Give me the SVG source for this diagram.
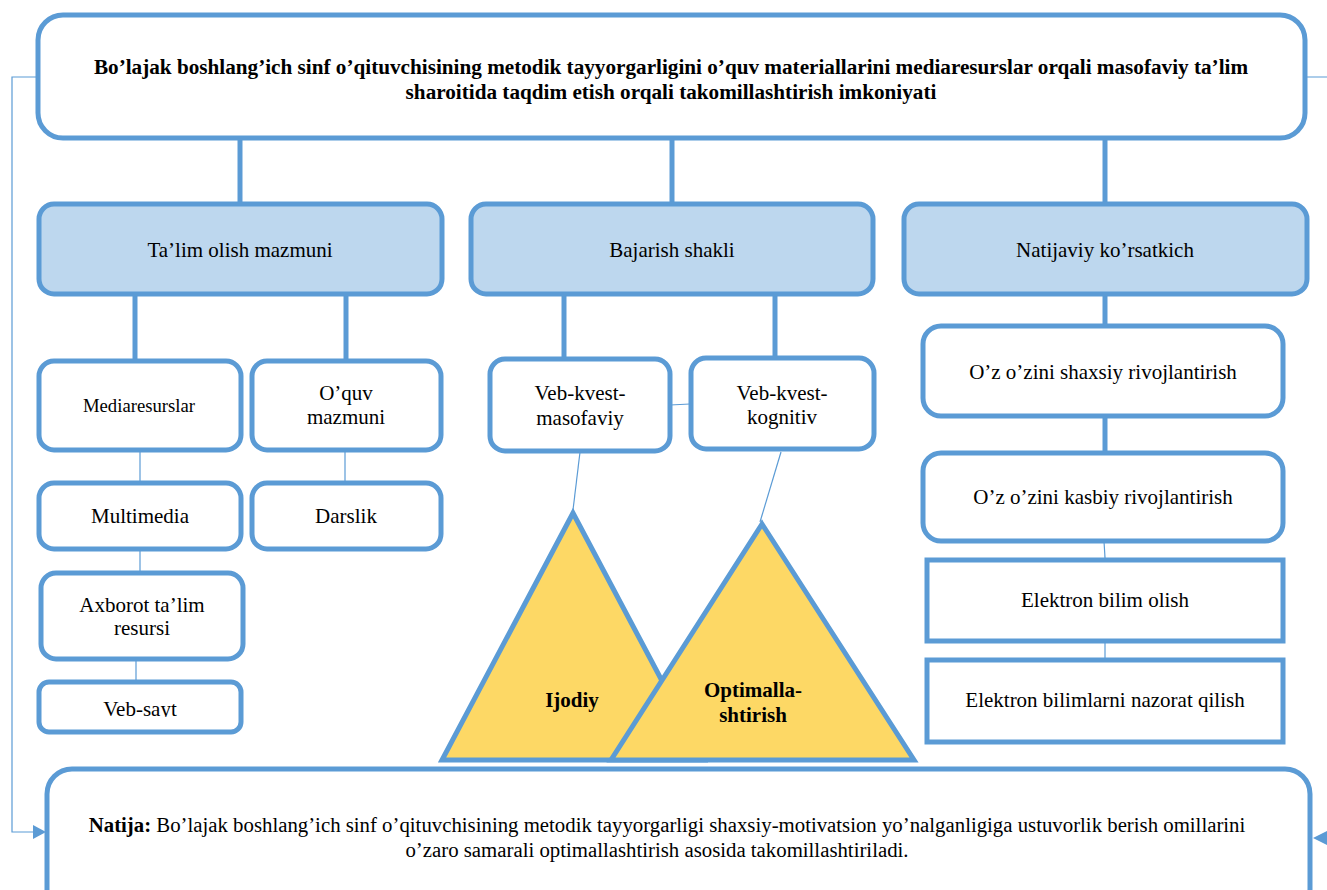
<svg xmlns="http://www.w3.org/2000/svg" width="1327" height="890" viewBox="0 0 1327 890" font-family="'Liberation Serif', 'Times New Roman', 'DejaVu Serif', serif">
<defs>
<style>
.box{fill:#fff;stroke:#5B9BD5;stroke-width:5}
.cat{fill:#BDD7EE;stroke:#5B9BD5;stroke-width:5}
.tri{fill:#FDD865;stroke:#5B9BD5;stroke-width:5;stroke-linejoin:miter}
.thick{stroke:#5B9BD5;stroke-width:5;fill:none}
.thin{stroke:#5B9BD5;stroke-width:1.2;fill:none}
</style>
<clipPath id="vebclip"><rect x="38" y="680" width="204" height="37"/></clipPath>
</defs>
<rect width="1327" height="890" fill="#fff"/>

<g id="connectors">
<line class="thick" x1="240" y1="138" x2="240" y2="204"/>
<line class="thick" x1="672" y1="138" x2="672" y2="204"/>
<line class="thick" x1="1105" y1="138" x2="1105" y2="204"/>
<line class="thick" x1="135" y1="294" x2="135" y2="361"/>
<line class="thick" x1="346" y1="294" x2="346" y2="361"/>
<line class="thick" x1="564" y1="294" x2="564" y2="359"/>
<line class="thick" x1="775" y1="294" x2="775" y2="358"/>
<line class="thick" x1="1105" y1="294" x2="1105" y2="326"/>
<line class="thick" x1="1105" y1="416" x2="1105" y2="453"/>
<line class="thin" x1="140" y1="450" x2="140" y2="482"/>
<line class="thin" x1="140" y1="550" x2="140" y2="585"/>
<line class="thin" x1="136" y1="650" x2="136" y2="680"/>
<line class="thin" x1="345" y1="450" x2="345" y2="482"/>
<line class="thin" x1="670" y1="405" x2="690" y2="404"/>
<line class="thin" x1="580" y1="452" x2="573" y2="510"/>
<line class="thin" x1="781" y1="452" x2="760" y2="522"/>
<line class="thin" x1="1104" y1="541" x2="1105" y2="558"/>
<line class="thin" x1="1105" y1="642" x2="1105" y2="658"/>
<polyline class="thin" points="38,77 12,77 12,832 34,832"/>
<polygon points="33,825 46,832 33,839" fill="#5B9BD5"/>
<polyline class="thin" points="1305,77 1330,77 1330,838"/>
<polygon points="1327,831 1313,838 1327,845" fill="#5B9BD5"/>
</g>

<g font-family="'Liberation Serif', 'Times New Roman', 'DejaVu Serif', serif" font-size="21" text-anchor="middle" fill="#000">
<g id="top">
<rect class="box" x="38" y="15" width="1267" height="123" rx="25"/>
<text font-weight="bold" font-size="21.2" x="671" y="74">Bo’lajak boshlang’ich sinf o’qituvchisining metodik tayyorgarligini o’quv materiallarini mediaresurslar orqali masofaviy ta’lim</text>
<text font-weight="bold" font-size="21.2" x="671" y="99">sharoitida taqdim etish orqali takomillashtirish imkoniyati</text>
</g>

<g id="cat1"><rect class="cat" x="39" y="204" width="403" height="90" rx="15"/><text x="240" y="257">Ta’lim olish mazmuni</text></g>
<g id="cat2"><rect class="cat" x="471" y="204" width="402" height="90" rx="15"/><text x="672" y="257">Bajarish shakli</text></g>
<g id="cat3"><rect class="cat" x="904" y="204" width="403" height="90" rx="15"/><text x="1105" y="257">Natijaviy ko’rsatkich</text></g>

<g id="mediaresurslar"><rect class="box" x="39" y="361" width="202" height="89" rx="15"/><text font-size="18.7" x="139" y="412">Mediaresurslar</text></g>
<g id="oquv"><rect class="box" x="252" y="361" width="189" height="89" rx="15"/><text x="346" y="400">O’quv</text><text x="346" y="424">mazmuni</text></g>
<g id="multimedia"><rect class="box" x="39" y="483" width="202" height="66" rx="15"/><text x="140" y="523">Multimedia</text></g>
<g id="darslik"><rect class="box" x="252" y="483" width="189" height="66" rx="15"/><text x="346" y="523">Darslik</text></g>
<g id="axborot"><rect class="box" x="41" y="573" width="202" height="86" rx="15"/><text x="142" y="612">Axborot ta’lim</text><text x="142" y="635">resursi</text></g>
<g id="vebsayt"><rect class="box" x="39" y="682" width="202" height="50" rx="10"/><text x="140" y="716" clip-path="url(#vebclip)">Veb-sayt</text></g>

<g id="masofaviy"><rect class="box" x="490" y="359" width="180" height="92" rx="15"/><text x="580" y="400">Veb-kvest-</text><text x="580" y="425">masofaviy</text></g>
<g id="kognitiv"><rect class="box" x="691" y="358" width="183" height="91" rx="15"/><text x="782" y="400">Veb-kvest-</text><text x="782" y="424">kognitiv</text></g>

<g id="ijodiy"><polygon class="tri" points="573,513 442,760 704,760"/><text font-weight="bold" x="572" y="707">Ijodiy</text></g>
<g id="optimal"><polygon class="tri" points="762,524 611,760 914,760"/><text font-weight="bold" x="753" y="697">Optimalla-</text><text font-weight="bold" x="753" y="722">shtirish</text></g>

<g id="shaxsiy"><rect class="box" x="923" y="326" width="360" height="90" rx="18"/><text x="1103" y="379">O’z o’zini shaxsiy rivojlantirish</text></g>
<g id="kasbiy"><rect class="box" x="923" y="453" width="360" height="88" rx="18"/><text x="1103" y="504">O’z o’zini kasbiy rivojlantirish</text></g>
<g id="elektron1"><rect class="box" x="927" y="560" width="356" height="81"/><text x="1105" y="607">Elektron bilim olish</text></g>
<g id="elektron2"><rect class="box" x="927" y="660" width="356" height="82"/><text x="1105" y="707">Elektron bilimlarni nazorat qilish</text></g>

<g id="bottom">
<rect class="box" x="47" y="769" width="1263" height="145" rx="25"/>
<text font-size="20.8" x="667" y="832"><tspan font-weight="bold">Natija:</tspan> Bo’lajak boshlang’ich sinf o’qituvchisining metodik tayyorgarligi shaxsiy-motivatsion yo’nalganligiga ustuvorlik berish omillarini</text>
<text font-size="20.8" x="657" y="857">o’zaro samarali optimallashtirish asosida takomillashtiriladi.</text>
</g>
</g>
</svg>
